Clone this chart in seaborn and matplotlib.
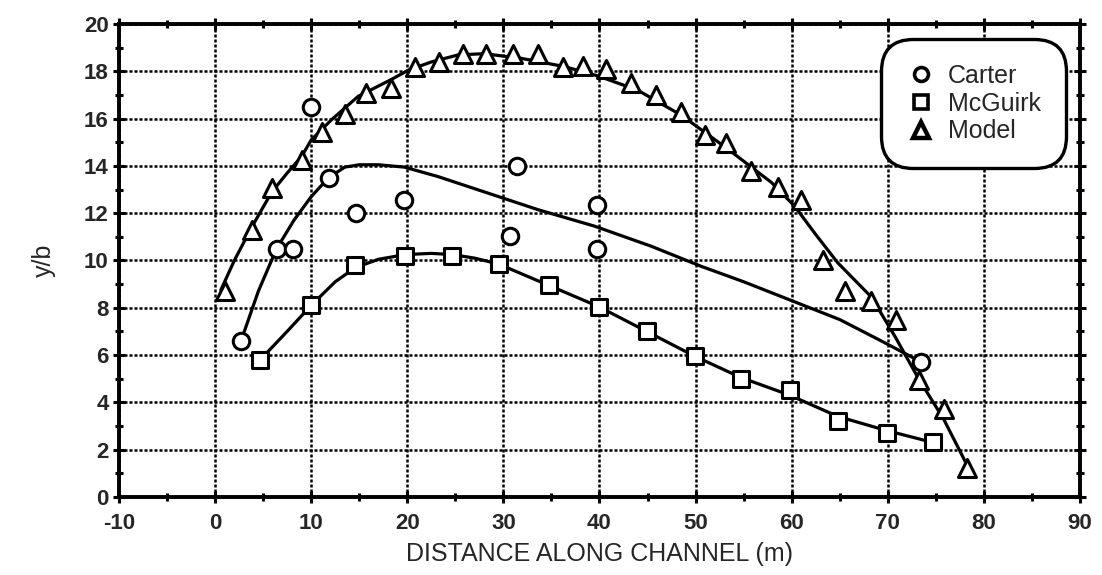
import seaborn as sns
import matplotlib.pyplot as plt
from matplotlib.lines import Line2D

# measured points
carter_x = [2.7, 6.4, 8.1, 10.0, 11.8, 14.7, 19.7, 30.7, 31.4, 39.7, 39.7, 73.5]
carter_y = [6.6, 10.5, 10.5, 16.5, 13.5, 12.0, 12.55, 11.05, 14.0, 12.35, 10.5, 5.7]

mcguirk_x = [4.7, 10.0, 14.6, 19.8, 24.7, 29.5, 34.7, 39.9, 44.9, 49.9, 54.7, 59.8, 64.8, 69.9, 74.7]
mcguirk_y = [5.8, 8.1, 9.8, 10.2, 10.2, 9.85, 8.95, 8.05, 7.0, 5.95, 5.0, 4.5, 3.2, 2.7, 2.3]

model_x = [1.0, 3.8, 5.9, 9.0, 11.1, 13.5, 15.7, 18.3, 20.8, 23.3, 25.8, 28.2, 31.0, 33.6,
           36.2, 38.3, 40.7, 43.3, 45.9, 48.5, 51.0, 53.2, 55.8, 58.6, 61.0, 63.3, 65.6,
           68.3, 70.9, 73.2, 75.8, 78.2]
model_y = [8.7, 11.3, 13.05, 14.25, 15.45, 16.2, 17.1, 17.3, 18.2, 18.4, 18.75, 18.75, 18.75, 18.75,
           18.2, 18.25, 18.1, 17.5, 17.0, 16.3, 15.3, 14.95, 13.8, 13.1, 12.55, 10.0, 8.7,
           8.3, 7.5, 4.95, 3.7, 1.2]

# fitted curves
carter_fit_x = [2.7, 4.5, 6.4, 8.2, 10.0, 11.8, 13.5, 15.0, 17.0, 19.7, 23.2, 28.4, 33.6, 39.5,
                45.4, 50.6, 55.0, 60.0, 65.0, 69.3, 73.5]
carter_fit_y = [6.6, 8.7, 10.5, 11.7, 12.7, 13.5, 13.95, 14.05, 14.05, 13.95, 13.55, 12.85, 12.15,
                11.45, 10.6, 9.75, 9.1, 8.3, 7.5, 6.6, 5.7]

mcguirk_fit_x = [4.7, 7.5, 10.0, 12.5, 14.6, 17.0, 19.8, 22.5, 24.7, 27.0, 29.5, 34.7, 39.9,
                 44.9, 49.9, 54.7, 59.8, 64.8, 69.9, 74.7]
mcguirk_fit_y = [5.8, 7.0, 8.1, 9.1, 9.7, 10.05, 10.25, 10.3, 10.25, 10.1, 9.85, 8.95, 8.05,
                 7.0, 5.95, 5.05, 4.3, 3.4, 2.8, 2.3]

model_fit_x = [0.6, 2.0, 3.8, 5.9, 7.5, 9.0, 10.0, 12.1, 14.9, 18.3, 20.1, 22.5, 25.3, 28.0,
               31.9, 36.4, 39.9, 44.0, 48.5, 53.4, 57.9, 60.3, 62.5, 64.8, 68.3, 70.8, 73.2,
               75.8, 78.3]
model_fit_y = [8.75, 10.0, 11.4, 12.9, 13.7, 14.4, 15.1, 15.95, 16.95, 17.65, 18.05, 18.4, 18.7,
               18.75, 18.55, 18.2, 17.8, 17.2, 16.15, 14.7, 13.3, 12.3, 11.1, 9.9, 8.45, 6.75,
               5.0, 3.3, 1.3]

xticks = list(range(-10, 91, 10))
yticks = list(range(0, 21, 2))

sns.set_style("ticks")
plt.rcParams['font.family'] = ['Liberation Sans', 'DejaVu Sans']
plt.rcParams['axes.unicode_minus'] = False

fig = plt.figure(figsize=(11.02, 5.75), dpi=100)
ax = fig.add_axes([0.108, 0.136, 0.872, 0.822])

ax.set_xlim(-10, 90)
ax.set_ylim(0, 20)
ax.set_xticks(xticks)
ax.set_yticks(yticks)
ax.set_xticks(range(-5, 90, 10), minor=True)
ax.set_yticks(range(1, 20, 2), minor=True)
ax.grid(True, which='major', color='black', linestyle=(0, (1.2, 0.8)), linewidth=1.8)
ax.set_axisbelow(True)

lw = 2.3
sns.lineplot(x=carter_fit_x, y=carter_fit_y, color='black', linewidth=lw, sort=False, ax=ax)
sns.lineplot(x=mcguirk_fit_x, y=mcguirk_fit_y, color='black', linewidth=lw, sort=False, ax=ax)
sns.lineplot(x=model_fit_x, y=model_fit_y, color='black', linewidth=lw, sort=False, ax=ax)

ms = 140
sns.scatterplot(x=carter_x, y=carter_y, marker='o', color='white', edgecolor='black',
                linewidth=2.2, s=ms, ax=ax, zorder=3)
sns.scatterplot(x=mcguirk_x, y=mcguirk_y, marker='s', color='white', edgecolor='black',
                linewidth=2.2, s=ms, ax=ax, zorder=3)
sns.scatterplot(x=model_x, y=model_y, marker='^', color='white', edgecolor='black',
                linewidth=2.2, s=ms * 1.2, ax=ax, zorder=3)

for sp in ax.spines.values():
    sp.set_linewidth(2.8)
    sp.set_color('black')

ax.tick_params(which='both', direction='inout', top=True, right=True, color='black', width=2.2)
ax.tick_params(which='major', length=9, labelsize=16)
ax.tick_params(axis='x', which='major', pad=7)
ax.tick_params(axis='y', which='major', pad=3)
ax.tick_params(which='minor', length=6)
for t in ax.get_xticklabels() + ax.get_yticklabels():
    t.set_fontweight('bold')

ax.set_xlabel('DISTANCE ALONG CHANNEL (m)', fontsize=18, labelpad=6)
ax.set_ylabel('y/b', fontsize=18, labelpad=20)

handles = [
    Line2D([], [], marker='o', ls='', mfc='white', mec='black', mew=2.6, ms=10),
    Line2D([], [], marker='s', ls='', mfc='white', mec='black', mew=2.6, ms=10),
    Line2D([], [], marker='^', ls='', mfc='white', mec='black', mew=3.2, ms=11),
]
leg = ax.legend(handles, ['Carter', 'McGuirk', 'Model'], loc='upper right',
                bbox_to_anchor=(0.974, 0.945), fontsize=18, frameon=True, fancybox=True,
                framealpha=1, handletextpad=0.5, handlelength=1.2, labelspacing=0.15,
                borderpad=0.55, borderaxespad=0)
fr = leg.get_frame()
fr.set_edgecolor('black')
fr.set_linewidth(2.4)
fr.set_boxstyle('round,pad=0.45,rounding_size=1.3')

fig.savefig('out.png', dpi=100)
